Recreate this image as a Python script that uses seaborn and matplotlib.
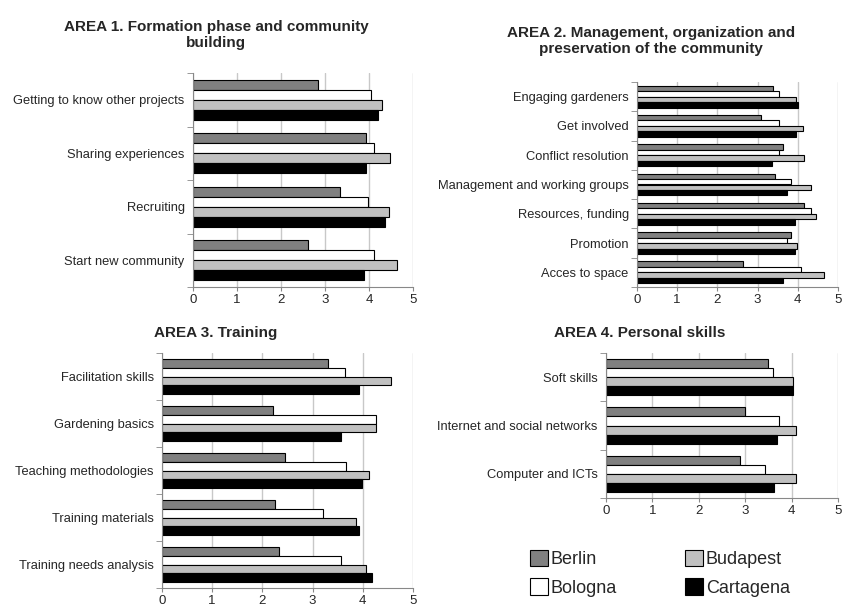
import matplotlib
matplotlib.use('Agg')
import matplotlib.pyplot as plt
import numpy as np
import pandas as pd
import seaborn as sns

cities = ['Berlin', 'Bologna', 'Budapest', 'Cartagena']
city_colors = ['#808080', '#ffffff', '#c0c0c0', '#000000']

area1_items = ['Getting to know other projects', 'Sharing experiences', 'Recruiting',
               'Start new community']
area1_berlin = [2.84, 3.94, 3.34, 2.61]
area1_bologna = [4.04, 4.11, 3.98, 4.11]
area1_budapest = [4.29, 4.48, 4.45, 4.64]
area1_cartagena = [4.20, 3.94, 4.37, 3.88]

area2_items = ['Engaging gardeners', 'Get involved', 'Conflict resolution',
               'Management and working groups', 'Resources, funding', 'Promotion',
               'Acces to space']
area2_berlin = [3.38, 3.08, 3.63, 3.43, 4.15, 3.83, 2.63]
area2_bologna = [3.53, 3.53, 3.53, 3.83, 4.32, 3.73, 4.09]
area2_budapest = [3.96, 4.13, 4.15, 4.33, 4.46, 3.97, 4.66]
area2_cartagena = [4.01, 3.95, 3.35, 3.74, 3.92, 3.92, 3.62]

area3_items = ['Facilitation skills', 'Gardening basics', 'Teaching methodologies',
               'Training materials', 'Training needs analysis']
area3_berlin = [3.30, 2.21, 2.46, 2.26, 2.33]
area3_bologna = [3.64, 4.27, 3.66, 3.20, 3.56]
area3_budapest = [4.57, 4.27, 4.12, 3.87, 4.07]
area3_cartagena = [3.92, 3.56, 3.99, 3.92, 4.19]

area4_items = ['Soft skills', 'Internet and social networks', 'Computer and ICTs']
area4_berlin = [3.50, 3.00, 2.89]
area4_bologna = [3.60, 3.73, 3.43]
area4_budapest = [4.03, 4.10, 4.10]
area4_cartagena = [4.02, 3.69, 3.63]

sns.set_style('white')
plt.rcParams['font.family'] = ['Liberation Sans', 'DejaVu Sans']


def to_long(items, *series):
    rows = []
    for city, vals in zip(cities, series):
        for item, v in zip(items, vals):
            rows.append({'Item': item, 'City': city, 'Value': v})
    return pd.DataFrame(rows)


panels = [
    (to_long(area1_items, area1_berlin, area1_bologna, area1_budapest, area1_cartagena),
     area1_items, [193, 73, 413, 287]),
    (to_long(area2_items, area2_berlin, area2_bologna, area2_budapest, area2_cartagena),
     area2_items, [637, 82, 838, 287]),
    (to_long(area3_items, area3_berlin, area3_bologna, area3_budapest, area3_cartagena),
     area3_items, [162, 353, 413, 588]),
    (to_long(area4_items, area4_berlin, area4_bologna, area4_budapest, area4_cartagena),
     area4_items, [606, 353, 838, 498]),
]

W, H = 842, 612
fig = plt.figure(figsize=(W / 100, H / 100), dpi=100)

axes = []
for df, items, (x0, y0, x1, y1) in panels:
    ax = fig.add_axes([x0 / W, 1 - y1 / H, (x1 - x0) / W, (y1 - y0) / H])
    sns.barplot(data=df, y='Item', x='Value', hue='City', order=items,
                hue_order=cities, palette=city_colors, orient='h', width=0.75,
                edgecolor='black', linewidth=0.8, saturation=1, ax=ax, legend=True)
    ax.set_xlim(0, 5)
    ax.set_ylim(len(items) - 0.5, -0.5)
    ax.set_xticks(range(6))
    ax.set_xlabel('')
    ax.set_ylabel('')
    for s in ['top', 'right']:
        ax.spines[s].set_visible(False)
    for s in ['left', 'bottom']:
        ax.spines[s].set_color('#888888')
        ax.spines[s].set_linewidth(0.8)
    ax.tick_params(axis='y', length=0, labelsize=9.3, pad=6)
    ax.set_yticks(np.arange(-0.5, len(items), 1.0), minor=True)
    ax.tick_params(axis='y', which='minor', length=4, color='#888888', left=True)
    ax.tick_params(axis='x', length=3, color='#888888', labelsize=9.5, bottom=True, pad=2)
    ax.set_axisbelow(True)
    ax.xaxis.grid(True, which='major', color='#c8c8c8', linewidth=1.0)
    axes.append(ax)

handles, labels = axes[0].get_legend_handles_labels()
for ax in axes:
    ax.get_legend().remove()

fig.text(216 / W, 1 - 35 / H, 'AREA 1. Formation phase and community\nbuilding',
         ha='center', va='center', fontsize=11, fontweight='bold', linespacing=1.2)
fig.text(651 / W, 1 - 41 / H, 'AREA 2. Management, organization and\npreservation of the community',
         ha='center', va='center', fontsize=11, fontweight='bold', linespacing=1.2)
fig.text(216 / W, 1 - 333 / H, 'AREA 3. Training',
         ha='center', va='center', fontsize=11, fontweight='bold')
fig.text(640 / W, 1 - 333 / H, 'AREA 4. Personal skills',
         ha='center', va='center', fontsize=11, fontweight='bold')

fig.legend(handles, labels, ncol=2, loc='upper left', bbox_to_anchor=(523 / W, 1 - 543 / H),
           frameon=False, fontsize=13, handlelength=1.0, handleheight=1.0,
           handletextpad=0.15, columnspacing=3.75, labelspacing=0.55, borderaxespad=0)

fig.savefig('out.png', dpi=100)
plt.close(fig)
